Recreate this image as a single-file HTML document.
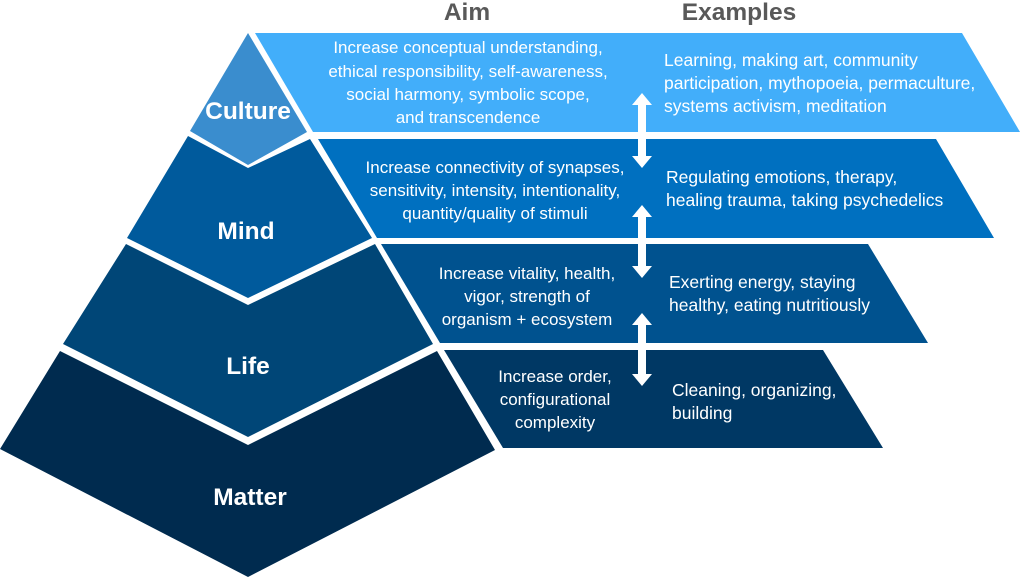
<!DOCTYPE html>
<html><head><meta charset="utf-8"><style>
html,body{margin:0;padding:0;background:#fff;}
svg{display:block;}
text{font-family:"Liberation Sans",sans-serif;}
.t{fill:#fff;font-size:17px;}
.e{fill:#fff;font-size:17.5px;}
.l{fill:#fff;font-size:24.5px;font-weight:bold;}
.h{fill:#595959;font-size:24.5px;font-weight:bold;}
</style></head><body>
<svg width="1024" height="577" viewBox="0 0 1024 577" xmlns="http://www.w3.org/2000/svg">
<polygon points="248,33 307,132 248,165 190,131" fill="#3a8dce"/>
<polygon points="188,136 248,168 310,139 372,238 248,298 127,238" fill="#005a9c"/>
<polygon points="126,244 248,305 375,244 433,344 248,437 63,344" fill="#004677"/>
<polygon points="60,351 248,445 437,351 495,450 248,577 0,449" fill="#002b4f"/>
<polygon points="255,33 962,33 1020,132 313,132" fill="#42aefa"/>
<polygon points="318,139 936,139 994,238 377,238" fill="#0070c0"/>
<polygon points="381,244 868,244 928,343 440,343" fill="#00528f"/>
<polygon points="444,350 823,350 883,448 503,448" fill="#003864"/>
<g fill="#fff">
<polygon points="642,93 652,105 646,105 646,156 652,156 642,168 632,156 638,156 638,105 632,105"/>
<polygon points="642,205 652,217 646,217 646,266 652,266 642,278 632,266 638,266 638,217 632,217"/>
<polygon points="642,313 652,325 646,325 646,374 652,374 642,386 632,374 638,374 638,325 632,325"/>
</g>
<text class="h" x="467" y="20" text-anchor="middle">Aim</text>
<text class="h" x="739" y="20" text-anchor="middle">Examples</text>
<text class="l" x="248" y="119" text-anchor="middle">Culture</text>
<text class="l" x="246" y="239" text-anchor="middle">Mind</text>
<text class="l" x="248" y="374" text-anchor="middle">Life</text>
<text class="l" x="250" y="505" text-anchor="middle">Matter</text>
<g class="t" text-anchor="middle">
<text x="468" y="53">Increase conceptual understanding,</text>
<text x="468" y="77">ethical responsibility, self-awareness,</text>
<text x="468" y="100">social harmony, symbolic scope,</text>
<text x="468" y="123">and transcendence</text>
<text x="495" y="173">Increase connectivity of synapses,</text>
<text x="495" y="196">sensitivity, intensity, intentionality,</text>
<text x="495" y="219">quantity/quality of stimuli</text>
<text x="527" y="279">Increase vitality, health,</text>
<text x="527" y="302">vigor, strength of</text>
<text x="527" y="325">organism + ecosystem</text>
<text x="555" y="382">Increase order,</text>
<text x="555" y="405">configurational</text>
<text x="555" y="428">complexity</text>
</g>
<g class="e">
<text x="664" y="66">Learning, making art, community</text>
<text x="664" y="89">participation, mythopoeia, permaculture,</text>
<text x="664" y="112">systems activism, meditation</text>
<text x="666" y="183">Regulating emotions, therapy,</text>
<text x="666" y="206">healing trauma, taking psychedelics</text>
<text x="669" y="288">Exerting energy, staying</text>
<text x="669" y="311">healthy, eating nutritiously</text>
<text x="672" y="396">Cleaning, organizing,</text>
<text x="672" y="419">building</text>
</g>
</svg>
</body></html>
